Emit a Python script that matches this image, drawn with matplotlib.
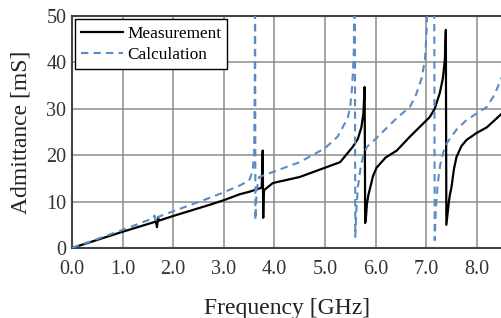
import matplotlib
matplotlib.use("Agg")
import matplotlib.pyplot as plt

# Measurement (black solid)
meas_f = [0.0, 1.0, 1.60, 1.66, 1.68, 1.70, 1.72, 2.0, 2.72, 3.0, 3.32, 3.5, 3.75, 3.77, 3.78, 3.79, 3.80,
          3.97, 4.5, 5.0, 5.3, 5.55, 5.65, 5.72, 5.76, 5.785, 5.795, 5.81, 5.83, 5.86, 5.89, 5.95,
          6.02, 6.2, 6.42, 6.68, 7.07, 7.17, 7.27, 7.33, 7.37, 7.39, 7.40, 7.45, 7.47, 7.50,
          7.55, 7.6, 7.7, 7.8, 8.0, 8.2, 8.5]
meas_y = [0.0, 3.5, 5.5, 5.7, 4.5, 6.6, 5.9, 6.9, 9.3, 10.3, 11.6, 12.1, 13.0, 21.0, 6.5, 12.0, 12.5,
          14.0, 15.3, 17.3, 18.5, 21.8, 23.5, 26.0, 29.0, 34.7, 5.4, 6.5, 9.5, 11.5, 12.8, 15.5,
          17.3, 19.5, 21.0, 24.0, 28.2, 30.0, 33.4, 36.5, 40.5, 47.0, 5.0, 10.0, 11.5, 13.0,
          17.0, 19.6, 22.0, 23.3, 24.8, 26.0, 29.0]

# Calculation (blue dashed)
calc_f = [0.0, 1.0, 1.60, 1.63, 1.65, 1.70, 2.72, 3.0, 3.32, 3.50, 3.57, 3.60, 3.612, 3.62, 3.625,
          3.65, 3.70, 4.0, 4.5, 5.0, 5.25, 5.45, 5.50, 5.54, 5.57, 5.585, 5.59, 5.60, 5.62, 5.65,
          5.70, 5.75, 5.83, 6.0, 6.42, 6.68, 6.80, 6.92, 6.98, 7.01, 7.035, 7.16, 7.17, 7.19,
          7.23, 7.28, 7.35, 7.41, 7.6, 7.8, 8.0, 8.2, 8.35, 8.5]
calc_y = [0.0, 3.9, 6.4, 7.0, 5.6, 6.7, 10.8, 12.0, 13.5, 14.5, 16.5, 20.0, 35.0, 60.0, 6.0,
          12.5, 15.3, 16.5, 18.5, 21.5, 24.0, 28.0, 30.5, 35.0, 42.0, 55.0, 60.0, 2.4, 8.0, 13.0,
          17.0, 19.5, 21.8, 23.5, 28.0, 30.4, 33.0, 36.9, 41.0, 47.0, 60.0, 60.0, 1.7, 8.0,
          14.0, 18.0, 21.0, 22.6, 25.5, 27.6, 29.0, 30.4, 33.0, 36.9]

x_ticks = [0, 1, 2, 3, 4, 5, 6, 7, 8]
x_tick_labels = ["0.0", "1.0", "2.0", "3.0", "4.0", "5.0", "6.0", "7.0", "8.0"]
y_ticks = [0, 10, 20, 30, 40, 50]

plt.rcParams['font.family'] = ['Liberation Serif', 'DejaVu Serif']

fig = plt.figure(figsize=(5.02, 3.18), dpi=100)
ax = fig.add_axes([72/502, 70/318, 1 - 72/502, (248-16)/318])

ax.plot(meas_f, meas_y, color='black', lw=1.6, label='Measurement', zorder=3)
ax.plot(calc_f, calc_y, color='#5b8bc5', lw=1.5, ls=(0, (3.5, 2.5)), label='Calculation', zorder=4)

ax.set_xlim(0, 8.5)
ax.set_ylim(0, 50)
ax.set_xticks(x_ticks)
ax.set_xticklabels(x_tick_labels)
ax.set_yticks(y_ticks)
ax.tick_params(length=0, labelsize=14.5, colors='#333333')
ax.tick_params(axis='x', pad=9)
ax.tick_params(axis='y', pad=4)
ax.grid(True, color='#8c8c8c', lw=1.1)
ax.set_axisbelow(True)
for s in ['left', 'bottom', 'top']:
    ax.spines[s].set_color('#444444')
    ax.spines[s].set_linewidth(1.5)
ax.spines['right'].set_visible(False)

ax.set_xlabel('Frequency [GHz]', fontsize=17, labelpad=13, color='#222222')
ax.set_ylabel('Admittance [mS]', fontsize=17, labelpad=11, color='#222222')

leg = ax.legend(loc='upper left', fontsize=12.4, frameon=True, fancybox=False,
                edgecolor='black', framealpha=1, borderpad=0.35, handlelength=2.4,
                handletextpad=0.25, borderaxespad=0.2, labelspacing=0.3)
leg.get_frame().set_linewidth(1.0)

fig.savefig('out.png', dpi=100)
